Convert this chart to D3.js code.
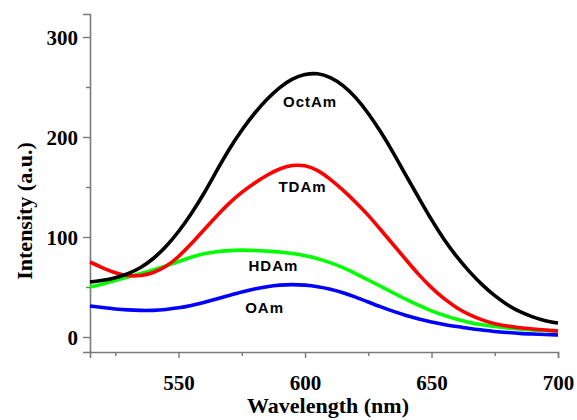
<!DOCTYPE html>
<html>
<head>
<meta charset="utf-8">
<script src="https://cdn.jsdelivr.net/npm/d3@7"></script>
<style>
  html, body { margin: 0; padding: 0; background: #fff; }
  svg { display: block; }
</style>
</head>
<body>
<svg id="chart" width="577" height="420"></svg>
<script>
// ---- data ----
const wavelengths = [515,520,525,530,535,540,545,550,555,560,565,570,575,580,585,590,595,600,605,610,615,620,625,630,635,640,645,650,655,660,665,670,675,680,685,690,695,700];
const octAm = [55,56.5,59,63,69,78,90,105,123,143,166,188,207,224,238,250,258.5,263,264,260,252,240,224,205,184,161,139,117,97,80,65,52,41,32,25,20,16,14];
const tdAm  = [75,69,64,61,61,64,70,80,93,107,121,134,145,154,162,168.5,172,172,167,158,147,135,122,107,92,77,62,49,38,29,22,17,13,11,9,8,7,6];
const hdAm  = [50,53,56.5,60,63.5,67,71,75.5,80,83.5,85.5,86.5,87,86.5,86,85,83.5,81.5,78.5,74.5,69.5,63.5,57,50.5,44,37.5,31.5,26,21.5,17.5,14.5,12,10.5,9,8,7,6.5,6];
const oAm   = [31,29.5,28,27,26.5,26.5,27.5,29,31.5,34.5,38,41.5,45,48,50.5,52,52.5,52,50.5,48,44.5,40,35,30,25.5,21.5,18,15,12.5,10.5,8.5,7,5.5,4.5,3.5,3,2.5,2];
const seriesNames = ["OctAm","TDAm","HDAm","OAm"];
const seriesColors = ["#000000","#ff0000","#00ff00","#0000ff"];
const xMajorTicks = [550,600,650,700];
const xMinorTicks = [525,575,625,675];
const yMajorTicks = [0,100,200,300];
const yMinorTicks = [50,150,250];
// label anchors in data units (wavelength, intensity)
const labelX = [602,599,587.5,584];
const labelY = [230,145,66,24];

// ---- layout ----
const svg = d3.select("#chart");
const x = d3.scaleLinear().domain([515,700]).range([90,558]);
const y = d3.scaleLinear().domain([-15,323]).range([352,14]);
const axisColor = "#7a7a7a";
const serif = "'Liberation Serif','Times New Roman',serif";

// axes
const xAxisMajor = d3.axisBottom(x).tickValues(xMajorTicks).tickSize(6).tickFormat(d3.format("d"));
const xAxisMinor = d3.axisBottom(x).tickValues(xMinorTicks).tickSize(4).tickFormat("");
const yAxisMajor = d3.axisLeft(y).tickValues(yMajorTicks).tickSize(7).tickFormat(d3.format("d"));
const yAxisMinor = d3.axisLeft(y).tickValues(yMinorTicks).tickSize(4).tickFormat("");

function styleAxis(g) {
  g.select(".domain").attr("stroke", axisColor).attr("stroke-width", 1.6);
  g.selectAll(".tick line").attr("stroke", axisColor).attr("stroke-width", 1.4);
  g.selectAll(".tick text")
    .attr("fill", "#000")
    .style("font-family", serif)
    .style("font-weight", "bold")
    .style("font-size", "21px");
}

const gx = svg.append("g").attr("transform", "translate(0,352)");
gx.call(xAxisMajor).call(styleAxis);
gx.selectAll(".tick text").attr("dy", 0).attr("y", 38);
const gxm = svg.append("g").attr("transform", "translate(0,352)").call(xAxisMinor).call(styleAxis);
gxm.select(".domain").remove();

const gy = svg.append("g").attr("transform", "translate(90,0)");
gy.call(yAxisMajor).call(styleAxis);
gy.selectAll(".tick text").attr("x", -12).attr("dy", "0.35em");
const gym = svg.append("g").attr("transform", "translate(90,0)").call(yAxisMinor).call(styleAxis);
gym.select(".domain").remove();

// axis titles
svg.append("text")
  .attr("x", 328).attr("y", 413)
  .attr("text-anchor", "middle")
  .style("font-family", serif)
  .style("font-weight", "bold").style("font-size", "22px")
  .text("Wavelength (nm)");

svg.append("text")
  .attr("transform", "translate(32,211) rotate(-90)")
  .attr("text-anchor", "middle")
  .style("font-family", serif)
  .style("font-weight", "bold").style("font-size", "22px")
  .text("Intensity (a.u.)");

// lines
const allSeries = [octAm, tdAm, hdAm, oAm];
const line = d3.line()
  .x((d, i) => x(wavelengths[i]))
  .y(d => y(d))
  .curve(d3.curveBasis);

const order = [3,2,1,0];
svg.append("g").selectAll("path")
  .data(order)
  .join("path")
  .attr("d", k => line(allSeries[k]))
  .attr("fill", "none")
  .attr("stroke", k => seriesColors[k])
  .attr("stroke-width", 3.6)
  .attr("stroke-linejoin", "round");

// series labels
svg.append("g").selectAll("text")
  .data(seriesNames)
  .join("text")
  .attr("x", (d, i) => x(labelX[i]))
  .attr("y", (d, i) => y(labelY[i]))
  .attr("text-anchor", "middle")
  .style("font-family", "'Liberation Sans',Arial,sans-serif")
  .style("font-weight", "bold")
  .style("font-size", "15px")
  .style("letter-spacing", "1px")
  .attr("fill", "#000")
  .text(d => d);
</script>
</body>
</html>
